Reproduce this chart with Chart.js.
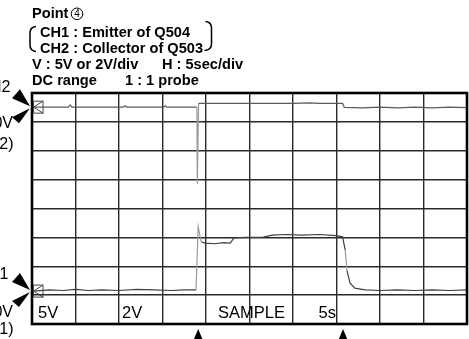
<!DOCTYPE html>
<html>
<head>
<meta charset="utf-8">
<script src="https://cdn.jsdelivr.net/npm/chart.js@4.4.0/dist/chart.umd.min.js"></script>
<style>
  body { margin: 0; background: #fff; }
  canvas { display: block; }
</style>
</head>
<body>
<canvas id="scope" width="469" height="339"></canvas>
<script>
// graticule: 10 x 8 divisions, 5 s/div
const secPerDiv = 5;
const divsX = 10;
const divsY = 8;

// CH1 : emitter of Q504, 5 V/div, ground level in divisions from the bottom
const ch1VoltsPerDiv = 5;
const ch1Ground = 1.14;
const ch1Time = [0.2, 2, 3.5, 5, 6.5, 8, 10, 12, 14, 16, 17.5, 18.85, 19.1, 19.45, 19.9, 21, 22, 22.8, 23.2, 24.5, 26.5, 27.6, 29.3, 31, 33, 35, 35.7, 36.0, 36.2, 36.55, 37.1, 38.3, 40, 42, 44, 46, 48, 50];
const ch1Volts = [0, 0.2, 0.1, 0.3, 0.1, 0.2, 0.1, 0.3, 0.2, 0.1, 0.2, 0.2, 11.1, 8.5, 8.3, 8.2, 8.4, 8.3, 9.2, 9.3, 9.3, 9.7, 9.8, 9.7, 9.8, 9.6, 9.4, 7.1, 3.6, 1.4, 0.5, 0.2, 0.1, 0.2, 0.1, 0.2, 0.1, 0.2];

// CH2 : collector of Q503, 2 V/div
const ch2VoltsPerDiv = 2;
const ch2Ground = 7.51;
const ch2Time = [0.2, 4.2, 4.4, 4.6, 10.5, 10.7, 10.9, 15.1, 15.3, 15.5, 18.95, 19.0, 19.15, 22, 26, 30, 32, 33, 35.7, 35.9, 38, 40, 42, 44, 46, 48, 50];
const ch2Volts = [0, 0, 0.15, 0, 0, 0.1, 0, 0, 0.1, 0, 0, -5.3, 0.26, 0.26, 0.26, 0.26, 0.3, 0.26, 0.26, -0.02, -0.05, 0, -0.05, 0, -0.05, 0, -0.03];

// trigger marks below the screen
const markTimes = [19.1, 35.75];

const bottomLabels = ["5V", "2V", "SAMPLE", "5s"];

function toDivs(times, volts, vpd, ground) {
  return times.map((t, i) => ({ x: t, y: ground + volts[i] / vpd }));
}

const traceColor = (ctx) =>
  Math.abs(ctx.p0.parsed.y - ctx.p1.parsed.y) > 0.5 ? "#9a9a9a" : undefined;

const headFont = 'bold 14.6px "Liberation Sans", Arial, sans-serif';
const bodyFont = '16px "Liberation Sans", Arial, sans-serif';

function groundMark(ctx, a, level, label, offs) {
  const x = a.left, y = level;
  // channel arrows pointing at the ground level
  ctx.fillStyle = "#000";
  ctx.beginPath();
  ctx.moveTo(x - 2, y - 1);
  ctx.lineTo(x - 12, y - 18);
  ctx.lineTo(x - 20, y - 9);
  ctx.closePath();
  ctx.fill();
  ctx.beginPath();
  ctx.moveTo(x - 2, y + 1);
  ctx.lineTo(x - 20, y + 10);
  ctx.lineTo(x - 13, y + 16);
  ctx.closePath();
  ctx.fill();
  // little boxed marker on the screen
  ctx.strokeStyle = "#444";
  ctx.lineWidth = 1;
  ctx.strokeRect(x + 1.5, y - 6, 9.5, 12);
  ctx.beginPath();
  ctx.moveTo(x + 11, y - 6);
  ctx.lineTo(x + 1.5, y);
  ctx.lineTo(x + 11, y + 6);
  ctx.stroke();
  ctx.font = bodyFont;
  ctx.textAlign = "right";
  ctx.fillText(label, offs[0], y + offs[1]);
  ctx.fillText("0V", 13, y + offs[2]);
  ctx.fillText("(" + label + ")", 13.5, y + offs[3]);
  ctx.textAlign = "left";
}

const scopeDecor = {
  id: "scopeDecor",
  beforeDatasetsDraw(chart) {
    const { ctx, chartArea: a } = chart;
    const xs = chart.scales.x;
    ctx.save();
    ctx.fillStyle = "#000";
    ctx.font = '16.5px "Liberation Sans", Arial, sans-serif';
    const base = a.bottom - 6.5;
    ctx.fillText(bottomLabels[0], xs.getPixelForValue(0) + 6, base);
    ctx.fillText(bottomLabels[1], xs.getPixelForValue(10) + 3, base);
    ctx.fillText(bottomLabels[2], xs.getPixelForValue(20) + 12, base);
    ctx.textAlign = "right";
    ctx.fillText(bottomLabels[3], xs.getPixelForValue(35) - 0.5, base);
    ctx.restore();
  },
  afterDraw(chart) {
    const { ctx, chartArea: a } = chart;
    const xs = chart.scales.x, ys = chart.scales.y;
    ctx.save();
    // screen frame
    ctx.strokeStyle = "#000";
    ctx.lineWidth = 2.6;
    ctx.strokeRect(a.left, a.top, a.width, a.height);

    // trigger arrows
    ctx.fillStyle = "#000";
    markTimes.forEach((t) => {
      const px = xs.getPixelForValue(t);
      ctx.beginPath();
      ctx.moveTo(px, a.bottom + 5);
      ctx.lineTo(px + 4.2, a.bottom + 15);
      ctx.lineTo(px - 4.2, a.bottom + 15);
      ctx.closePath();
      ctx.fill();
    });

    groundMark(ctx, a, ys.getPixelForValue(ch2Ground), "CH2", [10.5, -15, 21, 42]);
    groundMark(ctx, a, ys.getPixelForValue(ch1Ground), "CH1", [8.5, -12, 26, 43]);

    // header notes
    ctx.fillStyle = "#000";
    ctx.strokeStyle = "#000";
    ctx.font = headFont;
    ctx.fillText("Point", 32, 18);
    ctx.fillText("CH1 : Emitter of Q504", 40, 36.5);
    ctx.fillText("CH2 : Collector of Q503", 40, 52.5);
    ctx.fillText("V : 5V or 2V/div", 32, 69);
    ctx.fillText("H : 5sec/div", 162, 69);
    ctx.fillText("DC range", 32, 85);
    ctx.fillText("1 : 1 probe", 125, 85);

    // circled 4
    ctx.lineWidth = 1;
    ctx.beginPath();
    ctx.arc(77, 13.8, 5.8, 0, Math.PI * 2);
    ctx.stroke();
    ctx.font = '10px "Liberation Sans", Arial, sans-serif';
    ctx.textAlign = "center";
    ctx.fillText("4", 77, 17.4);
    ctx.textAlign = "left";

    // brackets round the channel lines
    ctx.lineWidth = 1.5;
    ctx.beginPath();
    ctx.moveTo(36, 26.5);
    ctx.quadraticCurveTo(30, 27, 30, 33);
    ctx.lineTo(30, 45);
    ctx.quadraticCurveTo(30, 51, 36, 51.5);
    ctx.stroke();
    ctx.beginPath();
    ctx.moveTo(205.5, 21.5);
    ctx.quadraticCurveTo(211.5, 22, 211.5, 28);
    ctx.lineTo(211.5, 44);
    ctx.quadraticCurveTo(211.5, 50, 204.5, 50.5);
    ctx.stroke();
    ctx.restore();
  }
};

const noSize = (s) => { s.width = 0; s.height = 0; };

new Chart(document.getElementById("scope"), {
  type: "line",
  data: {
    datasets: [
      {
        label: "CH2",
        data: toDivs(ch2Time, ch2Volts, ch2VoltsPerDiv, ch2Ground),
        borderColor: "#5a5a5a",
        borderWidth: 1.2,
        segment: { borderColor: traceColor },
        pointRadius: 0,
        tension: 0
      },
      {
        label: "CH1",
        data: toDivs(ch1Time, ch1Volts, ch1VoltsPerDiv, ch1Ground),
        borderColor: "#404040",
        borderWidth: 1.2,
        segment: { borderColor: traceColor },
        pointRadius: 0,
        tension: 0
      }
    ]
  },
  options: {
    responsive: false,
    animation: false,
    layout: { padding: { left: 32, top: 93, right: 2, bottom: 15 } },
    plugins: { legend: { display: false }, tooltip: { enabled: false } },
    scales: {
      x: {
        type: "linear",
        min: 0,
        max: divsX * secPerDiv,
        afterFit: noSize,
        ticks: { display: false, stepSize: secPerDiv },
        grid: { color: "#2a2a2a", lineWidth: 1.4, drawTicks: false },
        border: { display: false }
      },
      y: {
        type: "linear",
        min: 0,
        max: divsY,
        afterFit: noSize,
        ticks: { display: false, stepSize: 1 },
        grid: { color: "#2a2a2a", lineWidth: 1.4, drawTicks: false },
        border: { display: false }
      }
    }
  },
  plugins: [scopeDecor]
});
</script>
</body>
</html>
